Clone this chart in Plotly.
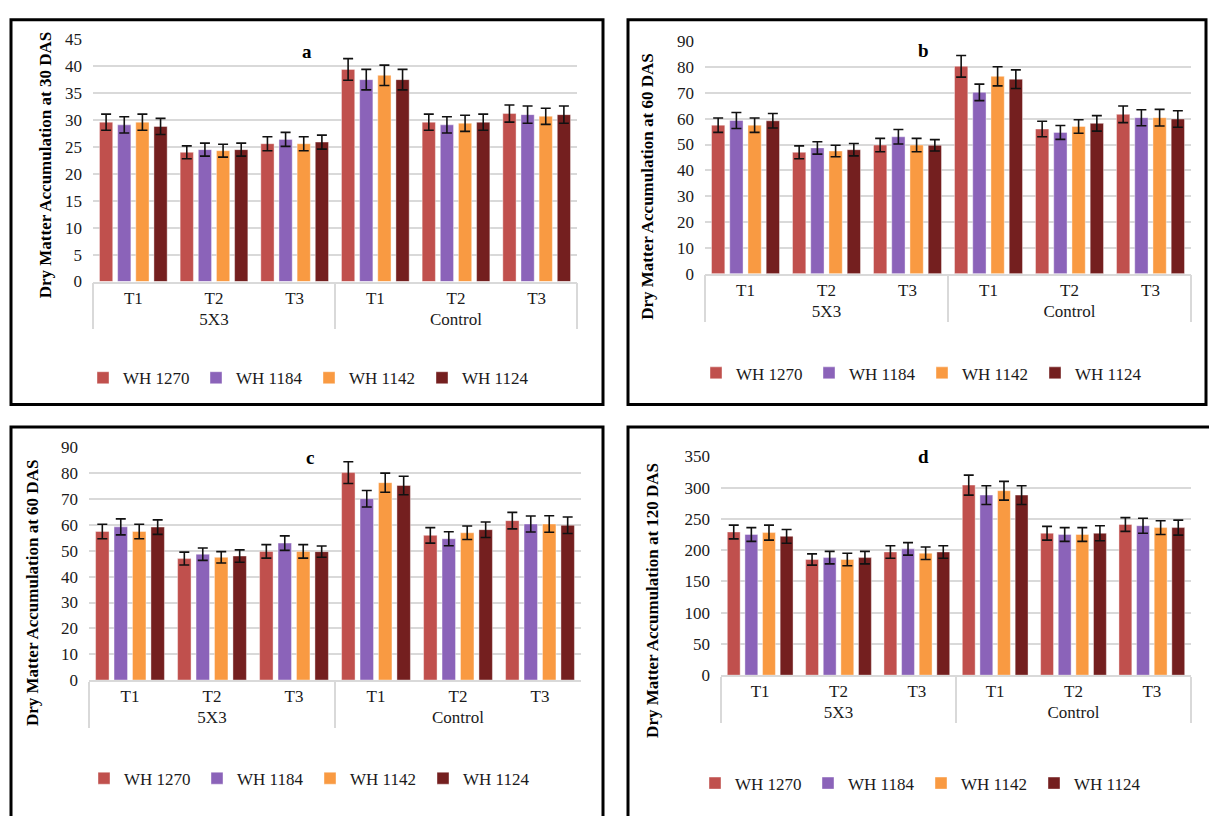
import plotly.graph_objects as go

W, H = 1209, 816

systems = ["5X3", "Control"]
treatments = ["T1", "T2", "T3"]
varieties = ["WH 1270", "WH 1184", "WH 1142", "WH 1124"]
colors = ["#C0504D", "#8B63B9", "#F99A42", "#741F1F"]

# Panel a: 30 DAS (order: 5X3 T1,T2,T3, Control T1,T2,T3)
a_wh1270 = [29.6, 24.0, 25.6, 39.4, 29.6, 31.2]
a_wh1184 = [29.1, 24.5, 26.4, 37.5, 29.1, 31.0]
a_wh1142 = [29.6, 24.3, 25.6, 38.3, 29.4, 30.7]
a_wh1124 = [28.8, 24.5, 25.9, 37.5, 29.6, 31.0]
a_err1270 = [1.5, 1.2, 1.3, 2.0, 1.5, 1.6]
a_err1184 = [1.5, 1.2, 1.3, 1.9, 1.5, 1.6]
a_err1142 = [1.5, 1.2, 1.3, 1.9, 1.5, 1.5]
a_err1124 = [1.5, 1.2, 1.3, 1.9, 1.5, 1.6]

# Panel b / c: 60 DAS
b_wh1270 = [57.5, 47.0, 49.8, 80.3, 56.0, 61.7]
b_wh1184 = [59.3, 48.7, 53.0, 70.2, 54.7, 60.4]
b_wh1142 = [57.5, 47.5, 49.8, 76.4, 57.0, 60.4]
b_wh1124 = [59.2, 48.0, 49.7, 75.3, 58.2, 59.9]
b_err1270 = [2.8, 2.5, 2.6, 4.2, 3.0, 3.2]
b_err1184 = [3.1, 2.4, 2.8, 3.2, 2.7, 3.1]
b_err1142 = [2.8, 2.2, 2.6, 3.7, 2.6, 3.2]
b_err1124 = [2.8, 2.4, 2.2, 3.6, 3.0, 3.2]

# Panel d: 120 DAS
d_wh1270 = [229, 185, 197, 304, 227, 241]
d_wh1184 = [225, 188, 202, 288, 225, 239]
d_wh1142 = [228, 185, 195, 295, 225, 236]
d_wh1124 = [222, 188, 197, 288, 227, 236]
d_err1270 = [11, 9, 10, 16, 11, 11]
d_err1184 = [11, 10, 10, 15, 11, 12]
d_err1142 = [12, 10, 10, 15, 11, 11]
d_err1124 = [11, 10, 10, 15, 12, 12]

y_titles = ["Dry Matter Accumulation at 30 DAS", "Dry Matter Accumulation at 60 DAS",
            "Dry Matter Accumulation at 60 DAS", "Dry Matter Accumulation at 120 DAS"]
letters = ["a", "b", "c", "d"]
y_max = [45, 90, 90, 350]
y_dtick = [5, 10, 10, 50]

panel_values = [
    [a_wh1270, a_wh1184, a_wh1142, a_wh1124],
    [b_wh1270, b_wh1184, b_wh1142, b_wh1124],
    [b_wh1270, b_wh1184, b_wh1142, b_wh1124],
    [d_wh1270, d_wh1184, d_wh1142, d_wh1124],
]
panel_errors = [
    [a_err1270, a_err1184, a_err1142, a_err1124],
    [b_err1270, b_err1184, b_err1142, b_err1124],
    [b_err1270, b_err1184, b_err1142, b_err1124],
    [d_err1270, d_err1184, d_err1142, d_err1124],
]

# layout geometry in pixels
plot_boxes = [  # x0, x1, ytop, ybottom
    (93, 577, 31, 279),
    (705, 1191, 33, 271),
    (89, 581, 449, 687),
    (721, 1191, 458, 682),
]
borders = [(11, 11, 603, 405), (628, 11, 1206, 405), (11, 428, 603, 830), (628, 428, 1220, 830)]
ytitle_pos = [(45, 160), (648, 182), (32, 598), (653, 606)]
letter_pos = [(307, 44), (923, 43), (310, 459), (923, 458)]
legend_pos = [(309, 378), (922, 373), (310, 788), (921, 793)]

FONT = "Liberation Serif"

def px(x):
    return x / W

def py(y):
    return 1 - y / H

xcat = [[s for s in systems for _ in treatments], [t for _ in systems for t in treatments]]

fig = go.Figure()
layout = dict(width=W, height=H, margin=dict(l=0, r=0, t=0, b=0),
              paper_bgcolor="white", plot_bgcolor="white",
              barmode="group", bargap=0.1, bargroupgap=0.27,
              font=dict(family=FONT, size=17, color="#1a1a1a"),
              shapes=[], annotations=[])

for i in range(4):
    sfx = "" if i == 0 else str(i + 1)
    leg = "legend" if i == 0 else "legend" + str(i + 1)
    for v in range(4):
        fig.add_trace(go.Bar(
            x=xcat, y=panel_values[i][v], name=varieties[v],
            marker=dict(color=colors[v], line=dict(color="rgba(255,255,255,0.5)", width=0.8)),
            error_y=dict(type="data", array=panel_errors[i][v], color="#111111", thickness=1.6, width=5),
            xaxis="x" + sfx, yaxis="y" + sfx, legend=leg,
        ))
    x0, x1, yt, yb = plot_boxes[i]
    layout["xaxis" + sfx] = dict(
        type="multicategory", domain=[px(x0), px(x1)], anchor="y" + sfx,
        showline=True, linecolor="#D9D9D9", linewidth=1.5,
        showdividers=True, dividercolor="#D9D9D9", dividerwidth=1.5,
        showgrid=False, ticks="", tickfont=dict(family=FONT, size=17, color="#1a1a1a"),
    )
    layout["yaxis" + sfx] = dict(
        domain=[py(yb), py(yt)], anchor="x" + sfx, range=[0, y_max[i]], dtick=y_dtick[i],
        showgrid=True, gridcolor="#D9D9D9", gridwidth=1.5, zeroline=False, showline=False,
        ticks="", ticklabelstandoff=10, tickfont=dict(family=FONT, size=17, color="#1a1a1a"),
    )
    lx, ly = legend_pos[i]
    layout[leg] = dict(orientation="h", x=px(lx), y=py(ly), xanchor="center", yanchor="middle",
                       font=dict(family=FONT, size=17, color="#1a1a1a"), bgcolor="rgba(0,0,0,0)",
                       itemclick=False, entrywidth=68)
    bx0, by0, bx1, by1 = borders[i]
    layout["shapes"].append(dict(type="rect", xref="paper", yref="paper",
                                 x0=px(bx0), x1=px(bx1), y0=py(by0), y1=py(by1),
                                 line=dict(color="black", width=3), layer="above"))
    tx, ty = ytitle_pos[i]
    layout["annotations"].append(dict(text="<b>" + y_titles[i] + "</b>", xref="paper", yref="paper",
                                      x=px(tx), y=py(ty), textangle=-90, showarrow=False,
                                      font=dict(family=FONT, size=17, color="black"),
                                      xanchor="center", yanchor="middle"))
    lx2, ly2 = letter_pos[i]
    layout["annotations"].append(dict(text="<b>" + letters[i] + "</b>", xref="paper", yref="paper",
                                      x=px(lx2), y=py(ly2), showarrow=False, bgcolor="white",
                                      font=dict(family=FONT, size=19, color="black"),
                                      xanchor="center", yanchor="middle"))

fig.update_layout(**layout)
fig.write_html("out.html", config={"displayModeBar": False},
               post_script="document.body.style.margin='0';document.body.style.overflow='hidden';")
